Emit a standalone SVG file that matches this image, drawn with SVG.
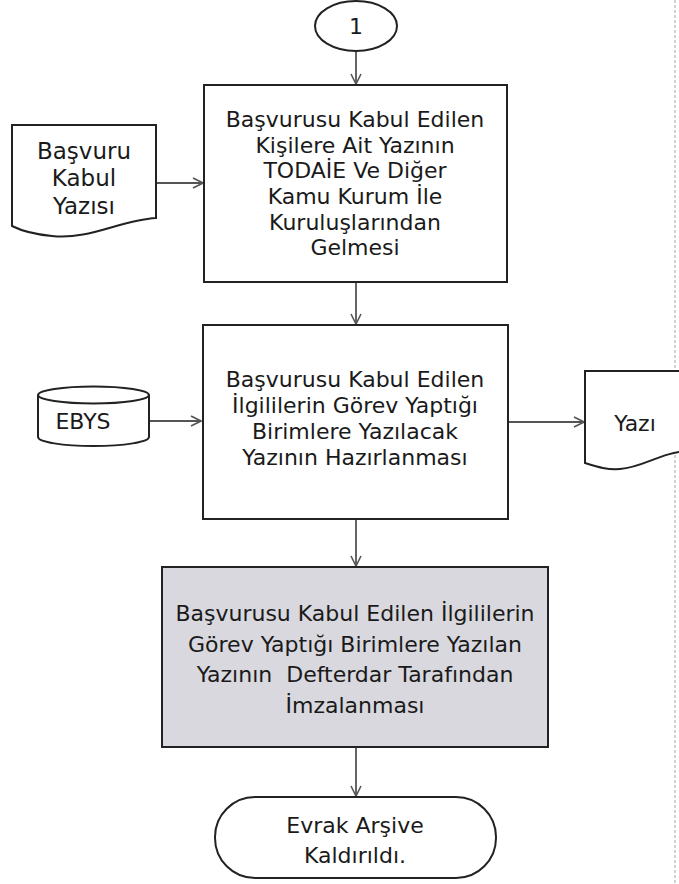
<svg xmlns="http://www.w3.org/2000/svg" width="679" height="884" viewBox="0 0 679 884">
<style>
.shape{fill:#fff;stroke:#222;stroke-width:2}
.gray{fill:#d8d8de;stroke:#222;stroke-width:2}
.t{font-family:"DejaVu Sans","Verdana",sans-serif;font-size:22px;fill:#1a1a1a;text-anchor:middle}
.c{stroke:#555;stroke-width:1.8;fill:none;marker-end:url(#ah)}
</style>
<defs>
<marker id="ah" viewBox="0 0 12 12" refX="11" refY="6" markerWidth="12" markerHeight="12" markerUnits="userSpaceOnUse" orient="auto">
<path d="M1,1 L11,6 L1,11" fill="none" stroke="#555" stroke-width="1.6"/>
</marker>
</defs>
<rect width="679" height="884" fill="#fff"/>
<line x1="675" y1="0" x2="675" y2="884" stroke="#c4c4c4" stroke-width="1.5" stroke-dasharray="3,2"/>
<g id="connectors">
<line class="c" x1="356" y1="51" x2="356" y2="84"/>
<line class="c" x1="156" y1="183" x2="203" y2="183"/>
<line class="c" x1="356" y1="283" x2="356" y2="324"/>
<line class="c" x1="150" y1="421" x2="201" y2="421"/>
<line class="c" x1="509" y1="422" x2="584" y2="422"/>
<line class="c" x1="356" y1="520" x2="356" y2="566"/>
<line class="c" x1="356" y1="748" x2="356" y2="796"/>
</g>
<g id="start">
<ellipse class="shape" cx="356" cy="26" rx="41" ry="25"/>
<text class="t" x="356" y="34">1</text>
</g>
<g id="doc1">
<path class="shape" d="M12,125 L156,125 L156,218 C120,220 90,240 52,236 C30,234 20,230 12,226 Z"/>
<text class="t" x="84" y="159" style="font-size:23px">Başvuru</text>
<text class="t" x="84" y="186" style="font-size:23px">Kabul</text>
<text class="t" x="84" y="214" style="font-size:23px">Yazısı</text>
</g>
<g id="step1">
<rect class="shape" x="204" y="85" width="303" height="197"/>
<text class="t" x="355" y="127">Başvurusu Kabul Edilen</text>
<text class="t" x="355" y="153">Kişilere Ait Yazının</text>
<text class="t" x="355" y="178">TODAİE Ve Diğer</text>
<text class="t" x="355" y="204">Kamu Kurum İle</text>
<text class="t" x="355" y="230">Kuruluşlarından</text>
<text class="t" x="355" y="255">Gelmesi</text>
</g>
<g id="ebys">
<path class="shape" d="M38,395 L38,437 A55.5,9 0 0 0 149,437 L149,395"/>
<ellipse class="shape" cx="93.5" cy="395" rx="55.5" ry="8.5"/>
<text class="t" x="83" y="429">EBYS</text>
</g>
<g id="step2">
<rect class="shape" x="203" y="325" width="305" height="194"/>
<text class="t" x="355" y="387">Başvurusu Kabul Edilen</text>
<text class="t" x="355" y="413">İlgililerin Görev Yaptığı</text>
<text class="t" x="355" y="439">Birimlere Yazılacak</text>
<text class="t" x="355" y="465">Yazının Hazırlanması</text>
</g>
<g id="doc2">
<path class="shape" d="M690,371 L585,371 L585,463 C595,466 605,470 620,469 C645,467 660,452 690,451"/>
<text class="t" x="635" y="431">Yazı</text>
</g>
<g id="step3">
<rect class="gray" x="162" y="567" width="386" height="180"/>
<text class="t" x="355" y="621">Başvurusu Kabul Edilen İlgililerin</text>
<text class="t" x="355" y="652">Görev Yaptığı Birimlere Yazılan</text>
<text class="t" x="355" y="682" xml:space="preserve">Yazının  Defterdar Tarafından</text>
<text class="t" x="355" y="713">İmzalanması</text>
</g>
<g id="end">
<rect class="shape" x="215" y="797" width="281" height="81" rx="40" ry="40"/>
<text class="t" x="355" y="833">Evrak Arşive</text>
<text class="t" x="355" y="863">Kaldırıldı.</text>
</g>
</svg>
